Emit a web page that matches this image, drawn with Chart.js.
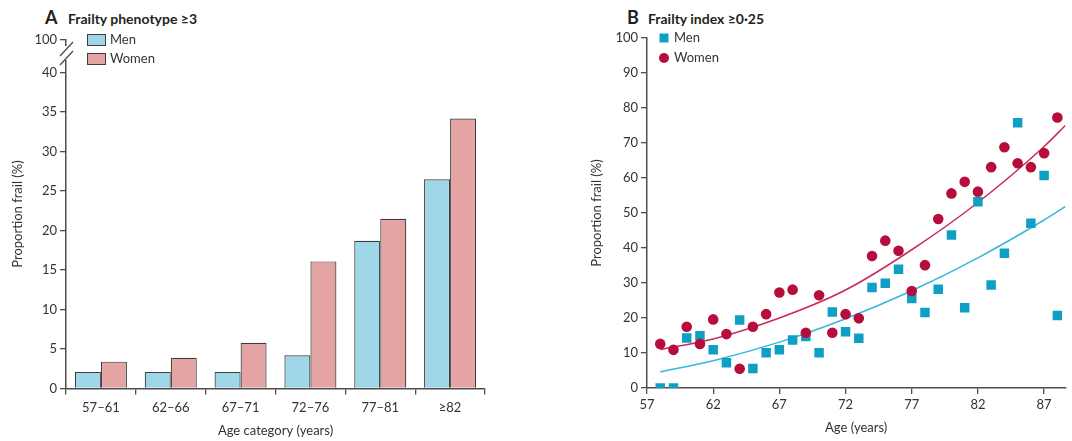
<!DOCTYPE html>
<html>
<head>
<meta charset="utf-8">
<script src="https://cdn.jsdelivr.net/npm/chart.js@4.4.0/dist/chart.umd.min.js"></script>
<style>
  html, body { margin: 0; padding: 0; background: #fff; }
  body { width: 1072px; height: 441px; position: relative; overflow: hidden; font-family: Lato, sans-serif; }
  .panel { position: absolute; top: 0; height: 441px; }
  #wrapA { left: 0; width: 540px; }
  #wrapB { left: 560px; width: 512px; }
  .ptitle { position: absolute; top: 5px; white-space: nowrap; font-weight: bold; color: #231f20; line-height: 24px; }
  .ptitle .letter { font-size: 18px; display: inline-block; width: 23px; }
  .ptitle .txt { font-size: 14px; }
</style>
</head>
<body>
<div class="ptitle" style="left:45px"><span class="letter">A</span><span class="txt">Frailty phenotype ≥3</span></div>
<div class="ptitle" style="left:627px"><span class="letter" style="width:21px">B</span><span class="txt">Frailty index ≥0·25</span></div>
<div class="panel" id="wrapA"><canvas id="chartA" width="540" height="441"></canvas></div>
<div class="panel" id="wrapB"><canvas id="chartB" width="512" height="441"></canvas></div>
<script>
// panel A: frailty phenotype by age band
const ageCategories = ["57–61", "62–66", "67–71", "72–76", "77–81", "≥82"];
const menPhenotype = [2.1, 2.1, 2.1, 4.2, 18.7, 26.5];
const womenPhenotype = [3.4, 3.9, 5.8, 16.1, 21.5, 34.2];
const yTicksA = [0, 5, 10, 15, 20, 25, 30, 35, 40];
const breakTickA = 44.2; // shown as "100" above the axis break
const breakLabelA = "100";

// panel B: frailty index by single year of age
const ages = [58, 59, 60, 61, 62, 63, 64, 65, 66, 67, 68, 69, 70, 71, 72, 73,
  74, 75, 76, 77, 78, 79, 80, 81, 82, 83, 84, 85, 86, 87, 88];
const menIndex = [0, 0, 14.3, 14.9, 10.9, 7.2, 19.4, 5.6, 10.1, 10.9, 13.7, 14.7, 10.1, 21.7, 16.1, 14.2,
  28.7, 29.9, 33.9, 25.6, 21.6, 28.2, 43.7, 22.9, 53.2, 29.4, 38.5, 75.8, 47.1, 60.7, 20.7];
const womenIndex = [12.6, 10.9, 17.5, 12.6, 19.6, 15.4, 5.5, 17.5, 21.1, 27.3, 28.1, 15.8, 26.5, 15.8, 21.1, 19.9,
  37.7, 42.1, 39.2, 27.7, 35.1, 48.3, 55.6, 58.9, 56.1, 63.1, 68.8, 64.2, 63.1, 67.1, 77.3];
const trendAges = [58, 62, 67, 72, 77, 82, 87, 88.6];
const menTrend = [4.6, 7.8, 13.1, 19.8, 27.8, 37.2, 48.0, 51.8];
const womenTrend = [11.0, 14.0, 20.0, 28.0, 39.5, 53.0, 69.0, 75.0];
const xTicksB = [57, 62, 67, 72, 77, 82, 87];

const textColor = "#333";
const axisColor = "#4d4d4d";
const tickFont = { family: "Lato", size: 13 };
const barEdge = "#3d3d3d";

const boxLegend = {
  id: "boxLegend",
  afterDraw(chart, args, opts) {
    const ctx = chart.ctx;
    ctx.save();
    ctx.font = "13px Lato";
    ctx.textBaseline = "middle";
    opts.items.forEach((it, i) => {
      const y = opts.y + i * opts.gap;
      ctx.fillStyle = it.color;
      if (it.kind === "box") {
        ctx.fillRect(opts.x, y - 5.5, 19, 11);
        ctx.strokeStyle = barEdge;
        ctx.lineWidth = 1;
        ctx.strokeRect(opts.x + 0.5, y - 5.5, 18, 11);
      } else if (it.kind === "square") {
        ctx.fillRect(opts.x - 4.5, y - 4.5, 9, 9);
      } else {
        ctx.beginPath();
        ctx.arc(opts.x, y, 5, 0, Math.PI * 2);
        ctx.fill();
      }
      ctx.fillStyle = textColor;
      ctx.fillText(it.label, opts.textX, y);
    });
    ctx.restore();
  }
};

const axisBreak = {
  id: "axisBreak",
  afterDraw(chart) {
    const ctx = chart.ctx;
    const x = chart.chartArea.left;
    ctx.save();
    ctx.fillStyle = "#fff";
    ctx.fillRect(x - 3, 46, 6, 14);
    ctx.strokeStyle = axisColor;
    ctx.lineWidth = 1.3;
    ctx.beginPath();
    ctx.moveTo(x - 6, 56); ctx.lineTo(x + 7, 42);
    ctx.moveTo(x - 6, 65); ctx.lineTo(x + 7, 51);
    ctx.stroke();
    ctx.restore();
  }
};

new Chart(document.getElementById("chartA"), {
  type: "bar",
  data: {
    labels: ageCategories,
    datasets: [
      { label: "Men", data: menPhenotype, backgroundColor: "#9fd7e9", borderColor: barEdge, borderWidth: 1.2,
        categoryPercentage: 0.745, barPercentage: 1 },
      { label: "Women", data: womenPhenotype, backgroundColor: "#e3a4a3", borderColor: barEdge, borderWidth: 1.2,
        categoryPercentage: 0.745, barPercentage: 1 }
    ]
  },
  options: {
    responsive: false,
    animation: false,
    layout: { padding: { top: 39.5, right: 55, bottom: 0, left: 0 } },
    scales: {
      x: {
        grid: { offset: true, drawOnChartArea: false, tickLength: 6, color: axisColor, lineWidth: 1.3 },
        border: { color: axisColor, width: 1.5 },
        ticks: { color: textColor, font: tickFont, padding: 6 },
        title: { display: true, text: "Age category (years)", color: textColor, font: tickFont, padding: { top: 0, bottom: 2 } },
        afterFit(s) { s.height = 52.5; }
      },
      y: {
        min: 0,
        max: breakTickA,
        afterBuildTicks(s) { s.ticks = yTicksA.concat([breakTickA]).map(v => ({ value: v })); },
        grid: { drawOnChartArea: false, tickLength: 6, color: axisColor, lineWidth: 1.3 },
        border: { color: axisColor, width: 1.5 },
        ticks: {
          color: textColor, font: tickFont, padding: 3,
          callback: v => (v === breakTickA ? breakLabelA : v)
        },
        title: { display: true, text: "Proportion frail (%)", color: textColor, font: tickFont, padding: { top: 10, bottom: 0 } },
        afterFit(s) { s.width = 66; }
      }
    },
    plugins: {
      legend: { display: false },
      tooltip: { enabled: false },
      boxLegend: {
        x: 87, y: 40, gap: 19, textX: 110,
        items: [
          { label: "Men", color: "#9fd7e9", kind: "box" },
          { label: "Women", color: "#e3a4a3", kind: "box" }
        ]
      }
    }
  },
  plugins: [boxLegend, axisBreak]
});

const toXY = (xs, ys) => xs.map((x, i) => ({ x: x, y: ys[i] }));

new Chart(document.getElementById("chartB"), {
  type: "scatter",
  data: {
    datasets: [
      { label: "Women", data: toXY(ages, womenIndex), pointStyle: "circle", pointRadius: 5.3, backgroundColor: "#b70d3d", borderWidth: 0 },
      { label: "Men", data: toXY(ages, menIndex), pointStyle: "rect", pointRadius: 6.7, backgroundColor: "#0e9fc5", borderWidth: 0 },
      { type: "line", label: "Women trend", data: toXY(trendAges, womenTrend), borderColor: "#cb2a5a", borderWidth: 1.5, pointRadius: 0, cubicInterpolationMode: "monotone", fill: false },
      { type: "line", label: "Men trend", data: toXY(trendAges, menTrend), borderColor: "#34b9dc", borderWidth: 1.5, pointRadius: 0, cubicInterpolationMode: "monotone", fill: false }
    ]
  },
  options: {
    responsive: false,
    animation: false,
    layout: { padding: { top: 38, right: 0, bottom: 0, left: 0 } },
    scales: {
      x: {
        type: "linear",
        min: 57,
        max: 88.6,
        afterBuildTicks(s) { s.ticks = xTicksB.map(v => ({ value: v })); },
        grid: { drawOnChartArea: false, tickLength: 6, color: axisColor, lineWidth: 1.3 },
        border: { color: axisColor, width: 1.5 },
        ticks: { color: textColor, font: tickFont, padding: 3 },
        title: { display: true, text: "Age (years)", color: textColor, font: tickFont, padding: { top: 0, bottom: 5 } },
        afterFit(s) { s.height = 53; }
      },
      y: {
        min: 0,
        max: 100,
        ticks: { stepSize: 10, color: textColor, font: tickFont, padding: 3 },
        grid: { drawOnChartArea: false, tickLength: 6, color: axisColor, lineWidth: 1.3 },
        border: { color: axisColor, width: 1.5 },
        title: { display: true, text: "Proportion frail (%)", color: textColor, font: tickFont, padding: { top: 29, bottom: 0 } },
        afterFit(s) { s.width = 87; }
      }
    },
    plugins: {
      legend: { display: false },
      tooltip: { enabled: false },
      boxLegend: {
        x: 104, y: 38, gap: 20, textX: 114,
        items: [
          { label: "Men", color: "#0e9fc5", kind: "square" },
          { label: "Women", color: "#b70d3d", kind: "circle" }
        ]
      }
    }
  },
  plugins: [boxLegend]
});
</script>
</body>
</html>
